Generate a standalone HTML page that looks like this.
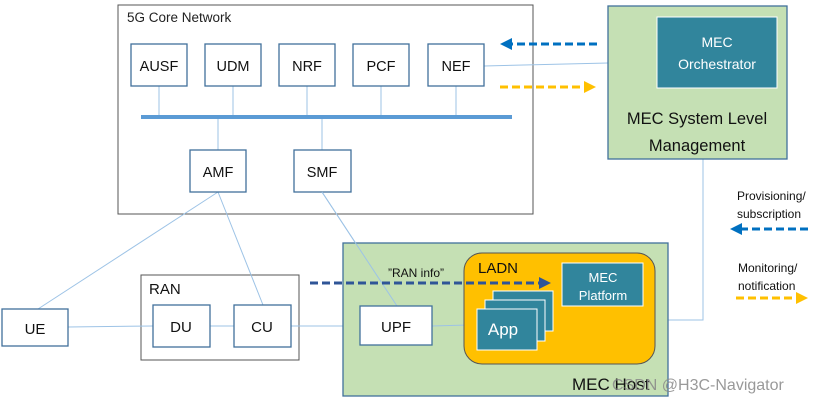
<!DOCTYPE html>
<html><head><meta charset="utf-8"><style>
html,body{margin:0;padding:0;background:#fff;}
svg{display:block;font-family:"Liberation Sans",sans-serif;}
</style></head><body>
<svg width="817" height="404" viewBox="0 0 817 404" xmlns="http://www.w3.org/2000/svg">
<defs>
<marker id="ab" markerWidth="4" markerHeight="4" refX="2" refY="2" orient="auto" markerUnits="strokeWidth"><path d="M0,0 L4,2 L0,4 Z" fill="#0070C0"/></marker>
<marker id="ay" markerWidth="4" markerHeight="4" refX="2" refY="2" orient="auto" markerUnits="strokeWidth"><path d="M0,0 L4,2 L0,4 Z" fill="#FFC000"/></marker>
<marker id="ad" markerWidth="4" markerHeight="4" refX="2" refY="2" orient="auto" markerUnits="strokeWidth"><path d="M0,0 L4,2 L0,4 Z" fill="#2F5597"/></marker>
</defs>
<!-- 5G core -->
<rect x="118" y="5" width="415" height="209" fill="#fff" stroke="#555" stroke-width="1"/>
<text x="127" y="22" font-size="13.5" fill="#222">5G Core Network</text>
<!-- RAN box (behind lines) -->
<rect x="141" y="275" width="158" height="85" fill="#fff" stroke="#555" stroke-width="1"/>
<text x="149" y="294" font-size="15" fill="#111">RAN</text>
<g stroke="#9DC3E6" stroke-width="1">
<line x1="159" y1="86" x2="159" y2="117"/><line x1="233" y1="86" x2="233" y2="117"/><line x1="307" y1="86" x2="307" y2="117"/><line x1="381" y1="86" x2="381" y2="117"/><line x1="456" y1="86" x2="456" y2="117"/>
<line x1="218" y1="117" x2="218" y2="150"/><line x1="322" y1="117" x2="322" y2="150"/>
<line x1="38" y1="309" x2="218" y2="192"/><line x1="218" y1="192" x2="263" y2="305"/><line x1="322" y1="192" x2="397" y2="306"/>
<line x1="484" y1="66" x2="608" y2="63"/>
<line x1="68" y1="327" x2="153" y2="326"/><line x1="210" y1="326" x2="234" y2="326"/><line x1="291" y1="326" x2="360" y2="326"/><line x1="432" y1="326" x2="468" y2="325"/>
<polyline points="668,320 703,320 703,159" fill="none"/>
</g>
<line x1="141" y1="117" x2="512" y2="117" stroke="#5B9BD5" stroke-width="4"/>
<g fill="#fff" stroke="#41719C" stroke-width="1.3">
<rect x="131" y="44" width="56" height="42"/><rect x="205" y="44" width="56" height="42"/><rect x="279" y="44" width="56" height="42"/><rect x="353" y="44" width="56" height="42"/><rect x="428" y="44" width="56" height="42"/>
<rect x="190" y="150" width="56" height="42"/><rect x="294" y="150" width="57" height="42"/>
</g>
<g font-size="14.5" fill="#111" text-anchor="middle">
<text x="159" y="71">AUSF</text><text x="233" y="71">UDM</text><text x="307" y="71">NRF</text><text x="381" y="71">PCF</text><text x="456" y="71">NEF</text>
<text x="218" y="177">AMF</text><text x="322" y="177">SMF</text>
</g>
<!-- MEC SLM -->
<rect x="608" y="6" width="179" height="153" fill="#C5E0B4" stroke="#41719C" stroke-width="1.3"/>
<rect x="657" y="17" width="120" height="71" fill="#31859C" stroke="#fff" stroke-width="1"/>
<text x="717" y="47" font-size="14" fill="#fff" text-anchor="middle">MEC</text>
<text x="717" y="69" font-size="14" fill="#fff" text-anchor="middle">Orchestrator</text>
<text x="697" y="124" font-size="16.5" fill="#111" text-anchor="middle">MEC System Level</text>
<text x="697" y="151" font-size="16.5" fill="#111" text-anchor="middle">Management</text>
<line x1="597" y1="44" x2="506" y2="44" stroke="#0070C0" stroke-width="3" stroke-dasharray="8,4" marker-end="url(#ab)"/>
<line x1="500" y1="87" x2="590" y2="87" stroke="#FFC000" stroke-width="3" stroke-dasharray="8,4" marker-end="url(#ay)"/>
<!-- legend -->
<text x="737" y="200" font-size="12" fill="#111">Provisioning/</text>
<text x="737" y="218" font-size="12" fill="#111">subscription</text>
<line x1="808" y1="229" x2="736" y2="229" stroke="#0070C0" stroke-width="3" stroke-dasharray="8,4" marker-end="url(#ab)"/>
<text x="738" y="272" font-size="12" fill="#111">Monitoring/</text>
<text x="738" y="290" font-size="12" fill="#111">notification</text>
<line x1="736" y1="298" x2="802" y2="298" stroke="#FFC000" stroke-width="3" stroke-dasharray="8,4" marker-end="url(#ay)"/>
<!-- RAN nodes -->
<rect x="153" y="305" width="57" height="42" fill="#fff" stroke="#41719C" stroke-width="1.3"/>
<rect x="234" y="305" width="57" height="42" fill="#fff" stroke="#41719C" stroke-width="1.3"/>
<text x="181" y="332" font-size="15" text-anchor="middle" fill="#111">DU</text>
<text x="262" y="332" font-size="15" text-anchor="middle" fill="#111">CU</text>
<rect x="2" y="309" width="66" height="37" fill="#fff" stroke="#41719C" stroke-width="1.3"/>
<text x="35" y="334" font-size="15" text-anchor="middle" fill="#111">UE</text>
<!-- MEC host -->
<rect x="343" y="243" width="325" height="153" fill="#C5E0B4" stroke="#41719C" stroke-width="1.3"/>
<line x1="322" y1="192" x2="397" y2="306" stroke="#9DC3E6" stroke-width="1"/>
<line x1="432" y1="326" x2="468" y2="325" stroke="#9DC3E6" stroke-width="1"/>
<rect x="464" y="253" width="191" height="111" rx="18" fill="#FFC000" stroke="#555" stroke-width="1"/>
<text x="478" y="273" font-size="15" fill="#111">LADN</text>
<rect x="562" y="263" width="81" height="43" fill="#31859C" stroke="#fff" stroke-width="1"/>
<text x="603" y="282" font-size="13" fill="#fff" text-anchor="middle">MEC</text>
<text x="603" y="300" font-size="13" fill="#fff" text-anchor="middle">Platform</text>
<rect x="493" y="291" width="60" height="40" fill="#31859C" stroke="#fff" stroke-width="1"/>
<rect x="485" y="300" width="60" height="41" fill="#31859C" stroke="#fff" stroke-width="1"/>
<rect x="477" y="309" width="60" height="41" fill="#31859C" stroke="#fff" stroke-width="1"/>
<text x="503" y="335" font-size="17" fill="#fff" text-anchor="middle">App</text>
<rect x="360" y="306" width="72" height="39" fill="#fff" stroke="#41719C" stroke-width="1.3"/>
<text x="396" y="332" font-size="15" text-anchor="middle" fill="#111">UPF</text>
<text x="388" y="277" font-size="12" fill="#111">”RAN info”</text>
<line x1="310" y1="283" x2="545" y2="283" stroke="#2F5597" stroke-width="3" stroke-dasharray="8,4" marker-end="url(#ad)"/>
<text x="572" y="390" font-size="17" fill="#111">MEC Host</text>
<text x="612" y="390" font-size="16" fill="#888" opacity="0.85">CSDN @H3C-Navigator</text>
</svg>
</body></html>
